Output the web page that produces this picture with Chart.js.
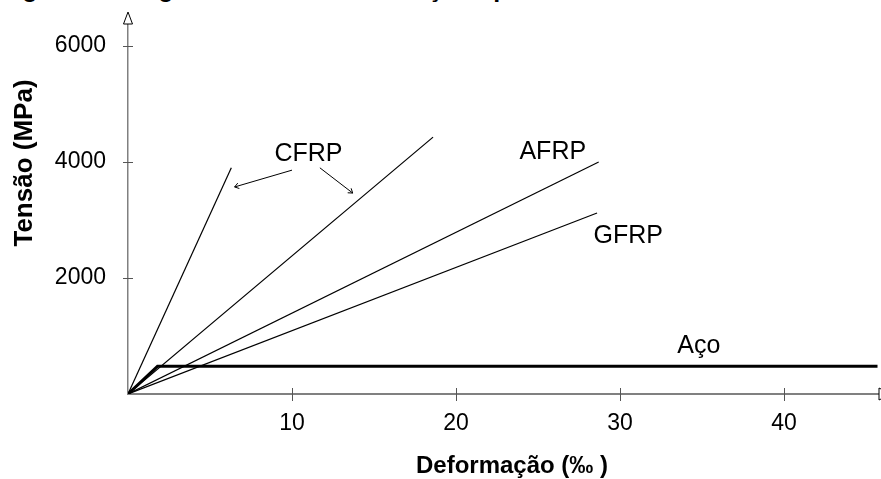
<!DOCTYPE html>
<html lang="pt">

<head>
  <meta charset="UTF-8">
  <title>Diagrama tensão-deformação</title>
  <style>
    body { margin: 0; background: #fff; overflow: hidden; }
    #caixa { position: relative; width: 881px; height: 479px; overflow: hidden; }
    #titulo {
      position: absolute; left: 0; top: -24px; white-space: nowrap;
      font: bold 25px Arial, "Liberation Sans", sans-serif; line-height: 25px; color: #000;
    }
    #grafico { position: absolute; left: 0; top: 0; width: 881px; height: 479px; }
  </style>
</head>

<body>
  <div id="caixa">
    <div id="titulo">Figura 1 - Diagrama tensão-deformação típico das barras de armadura FRP</div>
    <div id="grafico"><canvas id="chart_tensao"></canvas></div>
  </div>

  <script src="https://cdn.jsdelivr.net/npm/chart.js"></script>
  <script>
    // deformação (‰) e tensão (MPa) de cada material
    const deformCFRP1 = [0, 6.3];
    const tensaoCFRP1 = [0, 3900];
    const deformCFRP2 = [0, 18.6];
    const tensaoCFRP2 = [0, 4430];
    const deformAFRP = [0, 28.7];
    const tensaoAFRP = [0, 4000];
    const deformGFRP = [0, 28.6];
    const tensaoGFRP = [0, 3120];
    const deformAco = [0, 1.8, 45.7];
    const tensaoAco = [0, 480, 480];

    const ticksX = [10, 20, 30, 40];
    const ticksY = [2000, 4000, 6000];

    // rótulos das curvas (posição em deformação / tensão)
    const rotulos = ["CFRP", "AFRP", "GFRP", "Aço"];
    const rotulosX = [11.0, 25.9, 30.5, 34.8];
    const rotulosY = [4140, 4170, 2720, 830];

    // setas que saem do rótulo CFRP
    const setasX0 = [10.0, 11.7];
    const setasY0 = [3860, 3900];
    const setasX1 = [6.5, 13.7];
    const setasY1 = [3570, 3465];

    const fonte = 'Arial, "Liberation Sans", sans-serif';

    function pontos(xs, ys) {
      return xs.map((x, i) => ({ x: x, y: ys[i] }));
    }

    function serie(nome, xs, ys, largura) {
      return {
        label: nome,
        data: pontos(xs, ys),
        showLine: true,
        borderColor: '#000',
        borderWidth: largura,
        pointRadius: 0,
        tension: 0,
        fill: false
      };
    }

    const extras = {
      id: 'extras',
      afterDraw(chart) {
        const ctx = chart.ctx;
        const sx = chart.scales.x, sy = chart.scales.y;
        const area = chart.chartArea;
        ctx.save();

        // marcas cruzando os eixos
        ctx.strokeStyle = '#555';
        ctx.lineWidth = 1;
        ticksX.forEach(v => {
          const px = Math.round(sx.getPixelForValue(v)) + 0.5;
          ctx.beginPath();
          ctx.moveTo(px, area.bottom - 6);
          ctx.lineTo(px, area.bottom + 7);
          ctx.stroke();
        });
        ticksY.forEach(v => {
          const py = Math.round(sy.getPixelForValue(v)) + 0.5;
          ctx.beginPath();
          ctx.moveTo(area.left - 5, py);
          ctx.lineTo(area.left + 5, py);
          ctx.stroke();
        });

        // pontas de seta dos eixos
        ctx.strokeStyle = '#000';
        ctx.fillStyle = '#fff';
        ctx.beginPath();
        ctx.moveTo(area.left, area.top - 12);
        ctx.lineTo(area.left - 4.5, area.top);
        ctx.lineTo(area.left + 4.5, area.top);
        ctx.closePath();
        ctx.fill();
        ctx.stroke();
        ctx.beginPath();
        ctx.moveTo(area.right + 13, area.bottom);
        ctx.lineTo(area.right + 1, area.bottom - 6);
        ctx.lineTo(area.right + 1, area.bottom + 6);
        ctx.closePath();
        ctx.fill();
        ctx.stroke();

        // rótulos das curvas
        ctx.fillStyle = '#000';
        ctx.font = '25px ' + fonte;
        ctx.textAlign = 'center';
        ctx.textBaseline = 'middle';
        rotulos.forEach((t, i) => {
          ctx.fillText(t, sx.getPixelForValue(rotulosX[i]), sy.getPixelForValue(rotulosY[i]));
        });

        // setas do CFRP
        ctx.strokeStyle = '#000';
        ctx.lineWidth = 1;
        setasX0.forEach((x0, i) => {
          const ax = sx.getPixelForValue(x0), ay = sy.getPixelForValue(setasY0[i]);
          const bx = sx.getPixelForValue(setasX1[i]), by = sy.getPixelForValue(setasY1[i]);
          const ang = Math.atan2(by - ay, bx - ax);
          ctx.beginPath();
          ctx.moveTo(ax, ay);
          ctx.lineTo(bx, by);
          ctx.moveTo(bx - 5 * Math.cos(ang - 0.6), by - 5 * Math.sin(ang - 0.6));
          ctx.lineTo(bx, by);
          ctx.lineTo(bx - 5 * Math.cos(ang + 0.6), by - 5 * Math.sin(ang + 0.6));
          ctx.stroke();
        });

        // títulos dos eixos
        ctx.font = 'bold 24px ' + fonte;
        ctx.fillText('Deformação (‰ )', 512, 466);
        ctx.translate(25, 163);
        ctx.rotate(-Math.PI / 2);
        ctx.font = 'bold 26px ' + fonte;
        ctx.fillText('Tensão (MPa)', 0, 0);
        ctx.restore();
      }
    };

    new Chart(document.getElementById('chart_tensao'), {
      type: 'scatter',
      data: {
        datasets: [
          serie('CFRP', deformCFRP1, tensaoCFRP1, 1.2),
          serie('CFRP ', deformCFRP2, tensaoCFRP2, 1.2),
          serie('AFRP', deformAFRP, tensaoAFRP, 1.2),
          serie('GFRP', deformGFRP, tensaoGFRP, 1.2),
          serie('Aço', deformAco, tensaoAco, 3)
        ]
      },
      options: {
        responsive: true,
        maintainAspectRatio: false,
        animation: false,
        layout: { padding: { top: 24, right: 3, left: 0, bottom: 0 } },
        plugins: {
          legend: { display: false },
          tooltip: { enabled: false }
        },
        scales: {
          x: {
            type: 'linear',
            min: 0,
            max: 45.73,
            afterFit: s => { s.height = 85; s.paddingLeft = 0; s.paddingRight = 0; },
            afterBuildTicks: s => { s.ticks = ticksX.map(v => ({ value: v })); },
            grid: { display: false, drawTicks: false },
            border: { color: '#808080', width: 2 },
            ticks: { color: '#000', padding: 16, font: { family: fonte, size: 23 }, callback: v => String(v) }
          },
          y: {
            type: 'linear',
            min: 0,
            max: 6380,
            afterFit: s => { s.width = 128; s.paddingTop = 0; s.paddingBottom = 0; },
            afterBuildTicks: s => { s.ticks = ticksY.map(v => ({ value: v })); },
            grid: { display: false, drawTicks: false },
            border: { color: '#808080', width: 1.5 },
            ticks: { color: '#000', padding: 22, font: { family: fonte, size: 23 }, callback: v => String(v) }
          }
        }
      },
      plugins: [extras]
    });
  </script>
</body>

</html>
